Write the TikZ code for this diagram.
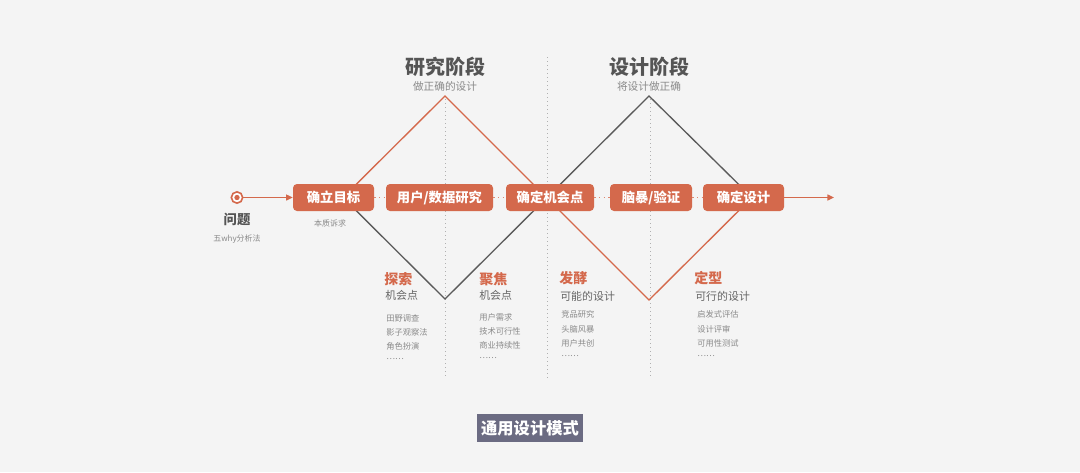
\documentclass[tikz,border=0pt]{standalone}
\usepackage{fontspec}
\setmainfont{Noto Sans CJK SC}
\usetikzlibrary{arrows.meta}
\definecolor{bg}{HTML}{F4F4F4}
\definecolor{org}{HTML}{D4694C}
\definecolor{dk}{HTML}{5A5A5A}
\definecolor{txt}{HTML}{555555}
\definecolor{lt}{HTML}{8A8A8A}
\definecolor{dotc}{HTML}{B0B0B0}
\definecolor{cap}{HTML}{6B6B82}
\tikzset{
  stagebox/.style={fill=org, text=white, rounded corners=3pt, minimum height=20.25pt, inner xsep=0pt, font=\fontsize{10}{12}\selectfont\bfseries},
  vguide/.style={dotc, line width=0.7pt, dash pattern=on 1pt off 2pt},
  hdot/.style={org!80, line width=1pt, dash pattern=on 1pt off 2.5pt},
  orgline/.style={org, line width=1pt},
  dkline/.style={dk, line width=1pt},
  ttl/.style={text=txt, font=\fontsize{15}{18}\selectfont\bfseries},
  subttl/.style={text=lt, font=\fontsize{8}{10}\selectfont},
  head/.style={text=org, font=\fontsize{10.5}{12}\selectfont\bfseries, anchor=west, inner sep=0pt},
  sub/.style={text=txt!90, font=\fontsize{8.2}{10}\selectfont, anchor=west, inner sep=0pt},
  item/.style={text=lt, font=\fontsize{6.2}{8}\selectfont, anchor=west, inner sep=0pt},
  tiny/.style={text=lt, font=\fontsize{6}{8}\selectfont},
}
\begin{document}
\begin{tikzpicture}[x=0.75pt,y=-0.75pt]
\fill[bg] (0,0) rectangle (1080,472);
\useasboundingbox (0,0) rectangle (1080,472);

% vertical dotted guides
\coordinate (g1t) at (445,99); \coordinate (g1b) at (445,378);
\coordinate (g2t) at (547,57); \coordinate (g2b) at (547,380);
\coordinate (g3t) at (650,99); \coordinate (g3b) at (650,378);
\draw[vguide] (g1t) -- (g1b);
\draw[vguide] (g2t) -- (g2b);
\draw[vguide] (g3t) -- (g3b);

% diamond lines
\coordinate (L) at (343,197.5);
\coordinate (P1) at (445,96);
\coordinate (B1) at (445,299);
\coordinate (P2) at (649,96);
\coordinate (B2) at (649,300);
\coordinate (R) at (752,197.5);
\draw[dkline] (L) -- (B1) -- (P2) -- (R);
\draw[orgline] (L) -- (P1) -- (B2) -- (R);

% start marker
\node[circle, draw=org, line width=1.2pt, fill=white, minimum size=8.5pt, inner sep=0pt] (st) at (237,197.5) {};
\fill[org] (st.center) circle (2pt);

% boxes
\node[stagebox, minimum width=60.75pt] (b1) at (333.5,197.5) {确立目标};
\node[stagebox, minimum width=80.25pt] (b2) at (439.5,197.5) {用户/数据研究};
\node[stagebox, minimum width=66pt] (b3) at (550,197.5) {确定机会点};
\node[stagebox, minimum width=61.5pt] (b4) at (651,197.5) {脑暴/验证};
\node[stagebox, minimum width=60.75pt] (b5) at (743.5,197.5) {确定设计};
\coordinate (end) at (834,197.5);

\draw[org, line width=1pt, -{Triangle[length=5pt,width=4.5pt]}] (st) -- (b1);
\draw[hdot] (b1) -- (b2);
\draw[hdot] (b2) -- (b3);
\draw[hdot] (b3) -- (b4);
\draw[hdot] (b4) -- (b5);
\draw[org, line width=1pt, -{Triangle[length=5pt,width=4.5pt]}] (b5) -- (end);

% labels near start
\node[text=txt, font=\fontsize{10}{12}\selectfont\bfseries] (q) at (237,219) {问题};
\node[tiny] (q2) at (237,239) {五why分析法};
\node[tiny] (bz) at (330,223) {本质诉求};

% titles
\node[ttl] (t1) at (445,67) {研究阶段};
\node[subttl] (s1) at (445,86) {做正确的设计};
\node[ttl] (t2) at (649,67) {设计阶段};
\node[subttl] (s2) at (649,86) {将设计做正确};

% bottom columns
\node[head] (h1) at (384,279) {探索};
\node[sub] (u1) at (385,295) {机会点};
\node[item] (i11) at (386,318) {田野调查};
\node[item] (i12) at (386,332) {影子观察法};
\node[item] (i13) at (386,346) {角色扮演};
\node[item] (i14) at (386,359) {……};

\node[head] (h2) at (479,279) {聚焦};
\node[sub] (u2) at (479,295) {机会点};
\node[item] (i21) at (479,317) {用户需求};
\node[item] (i22) at (479,331) {技术可行性};
\node[item] (i23) at (479,345) {商业持续性};
\node[item] (i24) at (479,358) {……};

\node[head] (h3) at (559,278) {发酵};
\node[sub] (u3) at (560,296) {可能的设计};
\node[item] (i31) at (561,314) {竞品研究};
\node[item] (i32) at (561,329) {头脑风暴};
\node[item] (i33) at (561,343) {用户共创};
\node[item] (i34) at (561,356) {……};

\node[head] (h4) at (694,278) {定型};
\node[sub] (u4) at (695,296) {可行的设计};
\node[item] (i41) at (697,314) {启发式评估};
\node[item] (i42) at (697,329) {设计评审};
\node[item] (i43) at (697,343) {可用性测试};
\node[item] (i44) at (697,356) {……};

% caption
\node[fill=cap, text=white, font=\fontsize{12.2}{14}\selectfont\bfseries, minimum width=79.5pt, minimum height=21pt, inner sep=0pt] (capn) at (530,428) {通用设计模式};
\end{tikzpicture}
\end{document}
